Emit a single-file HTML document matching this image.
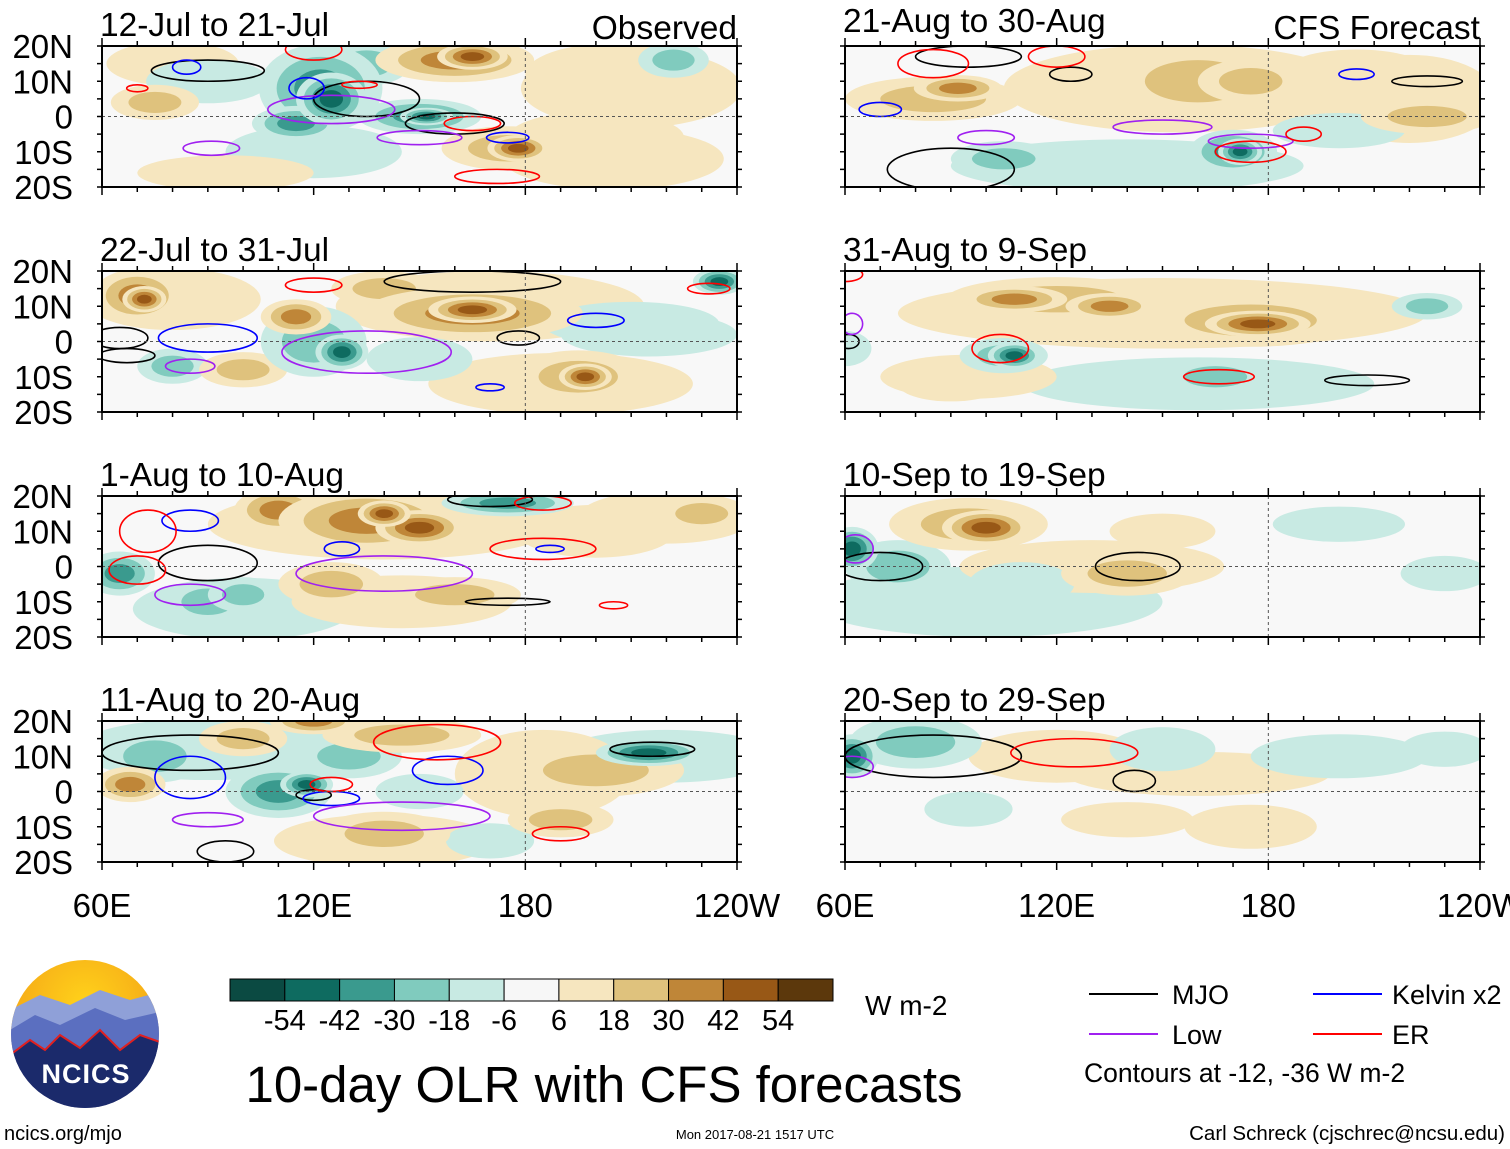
<!DOCTYPE html>
<html><head><meta charset="utf-8"><style>
html,body{margin:0;padding:0;background:#fff}
svg{display:block;font-family:"Liberation Sans",sans-serif}
</style></head><body>
<svg id="chart" width="1510" height="1149" viewBox="0 0 1510 1149" xmlns="http://www.w3.org/2000/svg">
<defs>
<radialGradient id="sun" cx="50%" cy="30%" r="70%"><stop offset="0" stop-color="#ffd21a"/><stop offset="1" stop-color="#f29a17"/></radialGradient>
<clipPath id="logoclip"><circle cx="85" cy="1034" r="74"/></clipPath>
</defs>
<g id="panels"></g>
<g id="bottom-axis"></g>
<g id="colorbar"></g>
<text x="865" y="1015" font-size="28">W m-2</text>
<g>
<line x1="1089" y1="994" x2="1158" y2="994" stroke="#000" stroke-width="2"/>
<text x="1172" y="1004" font-size="27">MJO</text>
<line x1="1313" y1="994" x2="1382" y2="994" stroke="#0000ff" stroke-width="2"/>
<text x="1392" y="1004" font-size="27">Kelvin x2</text>
<line x1="1089" y1="1034" x2="1158" y2="1034" stroke="#a020f0" stroke-width="2"/>
<text x="1172" y="1044" font-size="27">Low</text>
<line x1="1313" y1="1034" x2="1382" y2="1034" stroke="#ff0000" stroke-width="2"/>
<text x="1392" y="1044" font-size="27">ER</text>
<text x="1084" y="1082" font-size="26.5">Contours at -12, -36 W m-2</text>
</g>
<text x="604" y="1102" font-size="51" text-anchor="middle">10-day OLR with CFS forecasts</text>
<text x="4" y="1140" font-size="20">ncics.org/mjo</text>
<text x="755" y="1139" font-size="13" text-anchor="middle">Mon 2017-08-21 1517 UTC</text>
<text x="1505" y="1140" font-size="20.5" text-anchor="end">Carl Schreck (cjschrec@ncsu.edu)</text>
<g clip-path="url(#logoclip)">
<rect x="10" y="958" width="150" height="152" fill="url(#sun)"/>
<path d="M10 1010 L40 995 L70 1005 L100 990 L130 1000 L160 992 L160 1110 L10 1110Z" fill="#8fa0d8"/>
<path d="M10 1030 L35 1015 L60 1025 L95 1008 L125 1020 L160 1012 L160 1110 L10 1110Z" fill="#5b6fc0"/>
<path d="M10 1055 L30 1040 L45 1050 L60 1035 L80 1048 L100 1030 L120 1050 L140 1035 L160 1042 L160 1110 L10 1110Z" fill="#1b2a6b" stroke="#e02020" stroke-width="2"/>
</g>
<text x="86" y="1083" font-size="27" font-weight="bold" fill="#fff" text-anchor="middle" letter-spacing="1">NCICS</text>
</svg>
<script>
const levels = [-54,-42,-30,-18,-6,6,18,30,42,54];
const colors = ["#0b4a42","#0e6b60","#3a9a8e","#80cbbe","#c8eae3","#f7f7f7","#f6e6bf","#dfc27d","#bf8638","#985816","#5c380c"];
const lonTicks = ["60E","120E","180","120W"];
const lonTickValues = [60,120,180,240];
const latTicks = ["20N","10N","0","10S","20S"];
const latTickValues = [20,10,0,-10,-20];
const titles = ["12-Jul to 21-Jul","22-Jul to 31-Jul","1-Aug to 10-Aug","11-Aug to 20-Aug","21-Aug to 30-Aug","31-Aug to 9-Sep","10-Sep to 19-Sep","20-Sep to 29-Sep"];
// OLR anomaly blobs per panel: [lon, lat, lonRadius, latRadius, value]
const blobs0 = [[210,8,25,9,10],[205,-12,25,7,10],[120,-10,20,6,-8],[80,15,15,5,10],[95,-16,20,4,8],[160,16,18,5,30],[165,17,8,3,42],[75,4,10,4,24],[122,8,14,10,-30],[125,5,8,6,-48],[115,-2,10,4,-36],[150,0,14,4,-30],[152,0,6,2,-48],[175,-9,15,5,24],[178,-9,7,3,42],[205,12,20,7,12],[222,16,8,4,-18],[90,10,14,5,-12],[200,-6,20,6,12],[135,15,10,5,-18]];
const blobs1 = [[170,10,35,8,10],[190,-12,30,7,10],[215,2,20,5,-8],[80,12,20,7,10],[70,13,10,6,30],[72,12,5,3,48],[80,-7,8,4,-24],[100,-8,10,4,24],[120,0,12,8,-24],[128,-3,6,4,-42],[115,7,8,4,30],[165,8,25,6,30],[165,9,10,3,42],[195,-10,15,6,24],[197,-10,6,3,42],[235,17,6,3,-48],[210,5,20,5,-12],[150,-5,12,5,-12],[140,15,12,4,18]];
const blobs2 = [[140,12,40,8,10],[220,14,20,6,10],[100,-12,25,7,-8],[145,-10,25,6,8],[65,-2,8,5,-36],[100,-8,8,4,-24],[110,16,10,5,30],[135,13,20,7,30],[150,11,10,4,42],[140,15,6,3,42],[175,18,15,3,-36],[200,10,18,6,12],[90,-10,10,5,-18],[125,-5,12,5,18],[160,-8,15,4,18],[230,15,10,4,24],[125,10,8,5,18]];
const blobs3 = [[90,12,30,7,-8],[185,5,20,10,10],[140,-14,25,6,10],[220,10,25,6,-8],[75,10,12,6,-18],[68,2,8,4,30],[110,0,12,6,-30],[118,2,6,3,-48],[130,10,12,5,-18],[145,16,18,4,24],[120,20,10,3,30],[150,0,10,4,-12],[215,11,12,3,-48],[200,6,20,6,18],[190,-8,12,4,24],[140,-12,15,5,18],[100,15,10,4,24],[170,-14,10,4,-12]];
const blobs4 = [[155,8,40,10,10],[140,-14,40,6,-8],[220,5,20,10,10],[85,5,20,5,24],[92,8,10,3,36],[160,10,20,8,18],[175,10,12,5,24],[105,-12,12,4,-18],[170,-10,10,5,-30],[172,-10,5,3,-42],[120,-15,12,4,-12],[200,-4,15,4,-12],[225,0,15,4,18],[205,14,15,4,12]];
const blobs5 = [[150,8,60,8,10],[160,-12,40,6,-8],[95,-10,20,5,8],[120,12,25,5,18],[108,12,12,3,36],[135,10,10,3,36],[175,6,25,6,24],[177,5,12,3,42],[105,-4,10,4,-24],[108,-4,6,3,-42],[165,-10,12,4,-18],[90,-12,12,4,12],[225,10,8,3,-18],[60,-2,6,4,-12]];
const blobs6 = [[100,-10,40,8,-8],[130,0,30,6,8],[95,12,18,6,24],[100,11,10,4,48],[62,5,6,5,-42],[75,0,12,6,-18],[140,-2,15,5,18],[110,-5,12,5,-12],[80,-12,12,4,-12],[150,10,12,4,12],[230,-2,10,4,-12],[200,12,15,4,-6]];
const blobs7 = [[160,5,30,5,8],[62,10,6,5,-42],[80,14,15,6,-18],[120,10,20,6,12],[150,12,12,5,-12],[140,-8,15,4,12],[95,-5,10,4,-12],[200,10,20,5,-12],[230,12,10,4,-12],[175,-10,15,5,12]];
const blobSets = [blobs0,blobs1,blobs2,blobs3,blobs4,blobs5,blobs6,blobs7];
// contour ellipses per panel: [lon, lat, lonRadius, latRadius, type]  m=MJO,k=Kelvin,l=Low,e=ER
const lines0 = [[90,13,16,3,"m"],[135,5,15,5,"m"],[160,-2,14,3,"m"],[125,2,18,4,"l"],[91,-9,8,2,"l"],[150,-6,12,2,"l"],[84,14,4,2,"k"],[118,8,5,3,"k"],[175,-6,6,1.5,"k"],[70,8,3,1,"e"],[133,9,5,1,"e"],[165,-2,8,2,"e"],[172,-17,12,2,"e"],[120,19,8,3,"e"]];
const lines1 = [[65,1,8,3,"m"],[67,-4,8,2,"m"],[165,17,25,3,"m"],[178,1,6,2,"m"],[90,1,14,4,"k"],[200,6,8,2,"k"],[170,-13,4,1,"k"],[135,-3,24,6,"l"],[85,-7,7,2,"l"],[232,15,6,1.5,"e"],[120,16,8,2,"e"]];
const lines2 = [[90,1,14,5,"m"],[175,-10,12,1,"m"],[170,19,12,2,"m"],[85,13,8,3,"k"],[128,5,5,2,"k"],[187,5,4,1,"k"],[85,-8,10,3,"l"],[140,-2,25,5,"l"],[73,10,8,6,"e"],[70,-1,8,4,"e"],[185,5,15,3,"e"],[185,18,8,2,"e"],[205,-11,4,1,"e"]];
const lines3 = [[85,11,25,5,"m"],[120,-1,5,1.5,"m"],[95,-17,8,3,"m"],[216,12,12,2,"m"],[85,4,10,6,"k"],[158,6,10,4,"k"],[125,-2,8,2,"k"],[90,-8,10,2,"l"],[145,-7,25,4,"l"],[155,14,18,5,"e"],[190,-12,8,2,"e"],[125,2,6,2,"e"]];
const lines4 = [[90,-15,18,6,"m"],[95,17,15,3,"m"],[124,12,6,2,"m"],[225,10,10,1.5,"m"],[70,2,6,2,"k"],[205,12,5,1.5,"k"],[100,-6,8,2,"l"],[150,-3,14,2,"l"],[175,-7,12,2,"l"],[85,15,10,4,"e"],[120,17,8,3,"e"],[175,-10,10,3,"e"],[190,-5,5,2,"e"]];
const lines5 = [[208,-11,12,1.5,"m"],[61,0,3,2,"m"],[104,-2,8,4,"e"],[166,-10,10,2,"e"],[62,5,3,3,"l"],[60,19,5,2,"e"]];
const lines6 = [[70,0,12,4,"m"],[143,0,12,4,"m"],[63,5,5,4,"l"]];
const lines7 = [[85,10,25,6,"m"],[142,3,6,3,"m"],[62,7,6,3,"l"],[125,11,18,4,"e"]];
const lineSets = [lines0,lines1,lines2,lines3,lines4,lines5,lines6,lines7];

const NS="http://www.w3.org/2000/svg";
const panelW=635, panelH=141;
const panelX=[102,102,102,102,845,845,845,845];
const panelY=[46,271,496,721,46,271,496,721];
const lineColor={m:"#000",k:"#0000ff",l:"#a020f0",e:"#ff0000"};
function colorOf(v){let i=0;while(i<levels.length&&v>levels[i])i++;return colors[i];}
function mk(tag,attrs,parent){const e=document.createElementNS(NS,tag);for(const k in attrs)e.setAttribute(k,attrs[k]);parent.appendChild(e);return e;}
const root=document.getElementById("panels");
for(let p=0;p<8;p++){
  const x0=panelX[p],y0=panelY[p];
  const xs=lon=>x0+(lon-60)*panelW/180;
  const ys=lat=>y0+(20-lat)*panelH/40;
  const g=mk("g",{},root);
  
  
  const cp=mk("clipPath",{id:"cp"+p},g);
  mk("rect",{x:x0,y:y0,width:panelW,height:panelH},cp);
  mk("rect",{x:x0,y:y0,width:panelW,height:panelH,fill:"#f8f8f8"},g);
  const field=mk("g",{"clip-path":"url(#cp"+p+")"},g);
  const sorted=blobSets[p].slice().sort((a,b)=>Math.abs(a[4])-Math.abs(b[4]));
  sorted.forEach(b=>{
    const sign=b[4]<0?-1:1, mag=Math.abs(b[4]);
    const steps=[6,18,30,42,54].filter(s=>s<=mag+5);
    steps.forEach((s,i)=>{
      const f=1.25*(1-i/(steps.length+0.5));
      const e=mk("ellipse",{cx:xs(b[0]),cy:ys(b[1]),rx:b[2]*panelW/180*f,ry:b[3]*panelH/40*f,fill:colorOf(sign*(s+1))},field);
      
      
    });
  });
  mk("line",{x1:x0,y1:ys(0),x2:x0+panelW,y2:ys(0),stroke:"#555","stroke-dasharray":"3,3","stroke-width":1},g);
  mk("line",{x1:xs(180),y1:y0,x2:xs(180),y2:y0+panelH,stroke:"#555","stroke-dasharray":"3,3","stroke-width":1},g);
  lineSets[p].forEach(c=>{
    const e=mk("ellipse",{cx:xs(c[0]),cy:ys(c[1]),rx:c[2]*panelW/180,ry:c[3]*panelH/40,fill:"none",stroke:lineColor[c[4]],"stroke-width":1.6},field);
    
    
  });
  mk("rect",{x:x0,y:y0,width:panelW,height:panelH,fill:"none",stroke:"#000","stroke-width":2},g);
  for(let lon=60;lon<=240;lon+=10){
    const len=(lon%60===0)?8:5;
    mk("line",{x1:xs(lon),y1:y0,x2:xs(lon),y2:y0-len,stroke:"#000","stroke-width":1.5},g);
    mk("line",{x1:xs(lon),y1:y0+panelH,x2:xs(lon),y2:y0+panelH+len,stroke:"#000","stroke-width":1.5},g);
  }
  for(let lat=-20;lat<=20;lat+=5){
    mk("line",{x1:x0,y1:ys(lat),x2:x0-5,y2:ys(lat),stroke:"#000","stroke-width":1.5},g);
    mk("line",{x1:x0+panelW,y1:ys(lat),x2:x0+panelW+5,y2:ys(lat),stroke:"#000","stroke-width":1.5},g);
  }
  if(p<4){
    latTickValues.forEach((v,i)=>{
      const t=mk("text",{x:73,y:ys(v)+12,"font-size":33,"text-anchor":"end"},g);
      t.textContent=latTicks[i];
      
      
    });
  }
  const tt=mk("text",{x:x0-2,y:y0-10-(p===4?4:0),"font-size":33.5},g);
  tt.textContent=titles[p];
  
  
  if(p===0||p===4){
    const r=mk("text",{x:x0+panelW,y:y0-7,"font-size":33.5,"text-anchor":"end"},g);
    r.textContent=p===0?"Observed":"CFS Forecast";
    
    
  }
}
const ba=document.getElementById("bottom-axis");
[102,845].forEach(x0=>{
  lonTickValues.forEach((v,i)=>{
    const t=mk("text",{x:x0+(v-60)*panelW/180,y:917,"font-size":33,"text-anchor":"middle"},ba);
    t.textContent=lonTicks[i];
    
    
  });
});
const cb=document.getElementById("colorbar");
const cbX=230,cbW=603/colors.length;
colors.forEach((c,i)=>{
  const r=mk("rect",{x:cbX+i*cbW,y:979,width:cbW,height:22,fill:c,stroke:"#000","stroke-width":1},cb);
  
  
});
levels.forEach((v,i)=>{
  const t=mk("text",{x:cbX+(i+1)*cbW,y:1030,"font-size":29,"text-anchor":"middle"},cb);
  t.textContent=String(v);
  
  
});
</script>
</body></html>
